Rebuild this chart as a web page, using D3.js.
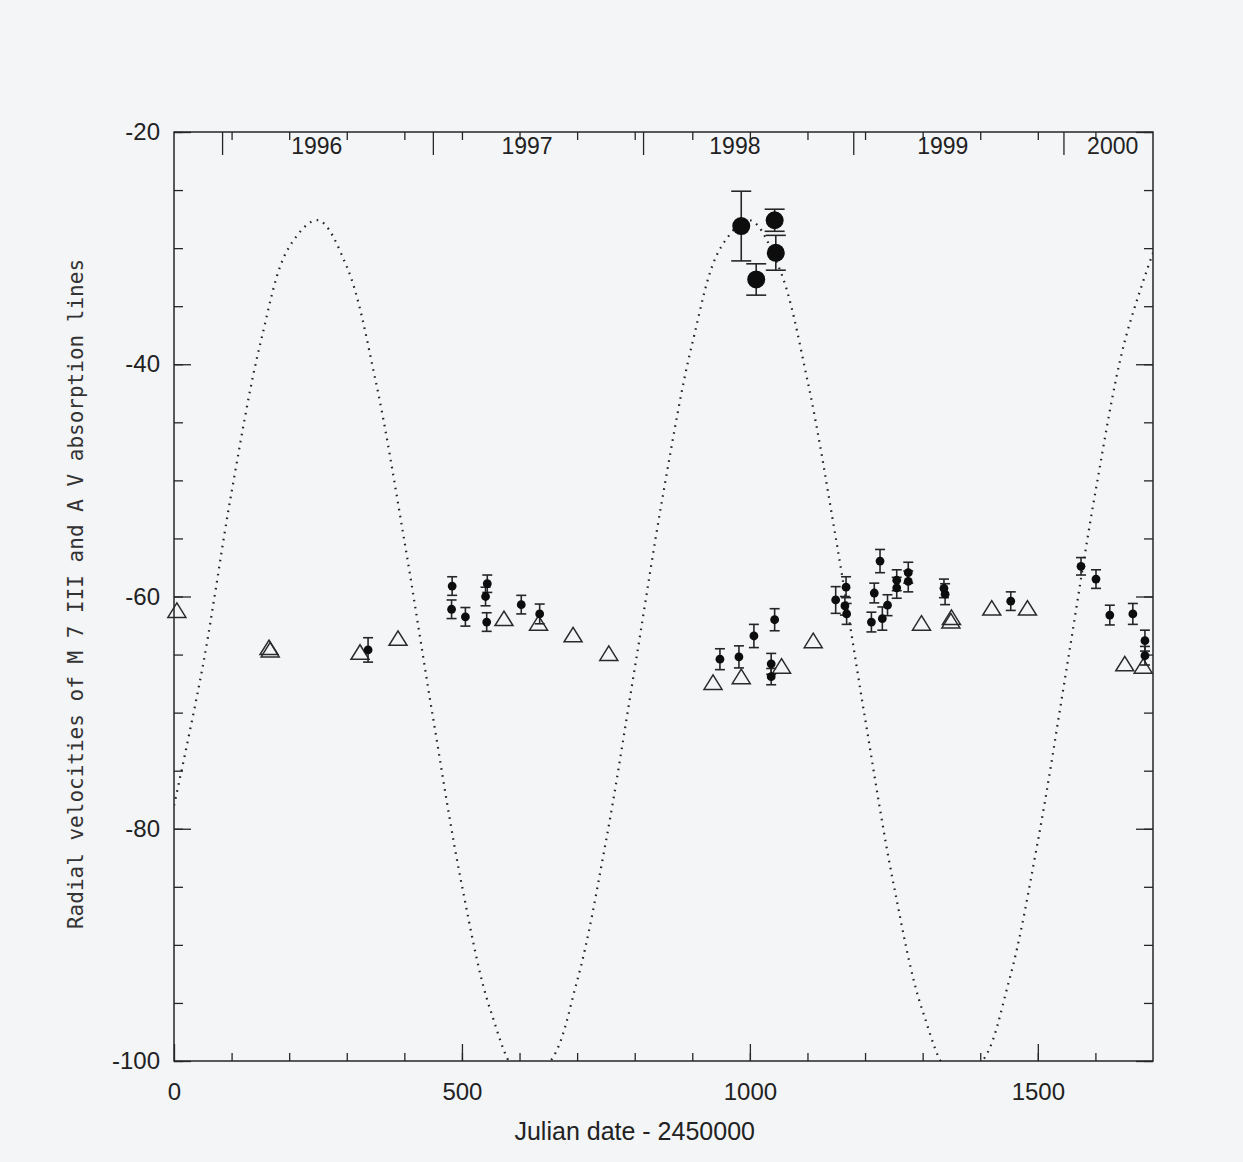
<!DOCTYPE html>
<html>
<head>
<meta charset="utf-8">
<script src="https://cdn.jsdelivr.net/npm/d3@7"></script>
<style>
  body { margin: 0; background: #f3f5f7; }
  svg { display: block; }
  .tick text { font-family: "Liberation Sans", Arial, sans-serif; fill: #222; }
</style>
</head>
<body>
<div id="chart"></div>
<script>
// velocities in km/s, dates as JD - 2450000

// A V absorption lines (open triangles)
const triangles = [
    [5, -61.2], [165, -64.4], [167, -64.6], [323, -64.8], [389, -63.6],
    [573, -61.9], [633, -62.3], [693, -63.3], [755, -64.9],
    [936, -67.4], [985, -66.9], [1055, -66.0], [1110, -63.8],
    [1298, -62.3], [1350, -61.8], [1349, -62.1], [1420, -61.0], [1482, -61.0],
    [1651, -65.8], [1683, -66.0]
];

// M 7 III lines (filled dots) : day, velocity, error
const mDots = [
    [337, -64.6, 1.05],
    [483, -59.1, 0.8], [482, -61.1, 0.8], [506, -61.75, 0.8],
    [544, -58.9, 0.75], [541, -60.0, 0.8], [543, -62.2, 0.8],
    [603, -60.7, 0.8], [635, -61.5, 0.85],
    [948, -65.4, 0.9], [981, -65.2, 0.95], [1007, -63.4, 1.0],
    [1043, -62.0, 0.95], [1037, -65.8, 0.9], [1037, -66.9, 0.7],
    [1149, -60.3, 1.15], [1167, -59.2, 0.9], [1165, -60.8, 0.8], [1168, -61.5, 0.9],
    [1226, -56.95, 1.0], [1216, -59.7, 0.85], [1211, -62.2, 0.85],
    [1230, -61.9, 1.0], [1239, -60.75, 0.9],
    [1255, -58.6, 0.9], [1255, -59.25, 0.9], [1275, -57.95, 0.9], [1275, -58.7, 0.9],
    [1337, -59.3, 0.8], [1339, -59.8, 0.9], [1453, -60.4, 0.8],
    [1575, -57.4, 0.75], [1601, -58.5, 0.8], [1625, -61.6, 0.85],
    [1665, -61.5, 0.9], [1686, -63.8, 0.9], [1686, -65.1, 0.8]
];

// the 1998 measurements (big dots)
const bigDots = [
    [985, -28.1, 3.0], [1011, -32.7, 1.35], [1043, -27.6, 0.95], [1045, -30.4, 1.5]
];

// dotted orbit curve, every 50 days
const orbitDays = d3.range(0, 1701, 50);
const orbitVel = [
    -78.0, -66.0, -51.0, -38.2, -29.9, -27.6, -31.6, -41.4, -55.2, -70.5,
    -84.9, -95.7, -101.1, -100.2, -93.1, -81.1, -66.2, -51.0, -38.2, -29.9,
    -27.6, -31.6, -41.4, -55.2, -70.5, -84.9, -95.7, -101.1, -100.2, -93.1,
    -81.1, -66.2, -51.0, -38.2, -30.4
];

const yearStarts = [83.5, 449.5, 814.5, 1179.5, 1544.5];
const yearNames = ["1996", "1997", "1998", "1999", "2000"];
const yearLabelDays = [248, 613, 974, 1335, 1630];

const xTicksMajor = [0, 500, 1000, 1500];
const yTicksMajor = [-20, -40, -60, -80, -100];

const W = 1243, H = 1162;
const margin = { top: 132, left: 174, right: 90, bottom: 101 };
const width = W - margin.left - margin.right;
const height = H - margin.top - margin.bottom;

const svg = d3.select("#chart").append("svg")
    .attr("width", W)
    .attr("height", H);

svg.append("rect")
    .attr("width", W).attr("height", H)
    .attr("fill", "#f3f5f7");

const g = svg.append("g").attr("transform", `translate(${margin.left},${margin.top})`);

const x = d3.scaleLinear().domain([0, 1700]).range([0, width]);
const y = d3.scaleLinear().domain([-100, -20]).range([height, 0]);

const ink = "#262626";

// clip for the curve
svg.append("defs").append("clipPath").attr("id", "plotclip")
    .append("rect").attr("width", width).attr("height", height);

// axes, ticks pointing inward
function styleAxis(sel) {
    sel.select(".domain").remove();
    sel.selectAll(".tick line").attr("stroke", ink).attr("stroke-width", 1.3);
}

g.append("g")
    .call(d3.axisLeft(y).tickValues(d3.range(-100, -19, 5)).tickSize(-9).tickFormat(""))
    .call(styleAxis);
g.append("g")
    .call(d3.axisLeft(y).tickValues(yTicksMajor).tickSize(-17).tickPadding(14).tickFormat(d => String(d)))
    .call(styleAxis)
    .selectAll("text").attr("font-size", 24);

g.append("g").attr("transform", `translate(${width},0)`)
    .call(d3.axisRight(y).tickValues(d3.range(-100, -19, 5)).tickSize(-9).tickFormat(""))
    .call(styleAxis);
g.append("g").attr("transform", `translate(${width},0)`)
    .call(d3.axisRight(y).tickValues(yTicksMajor).tickSize(-17).tickFormat(""))
    .call(styleAxis);

g.append("g").attr("transform", `translate(0,${height})`)
    .call(d3.axisBottom(x).tickValues(d3.range(100, 1700, 100)).tickSize(-8).tickFormat(""))
    .call(styleAxis);
g.append("g").attr("transform", `translate(0,${height})`)
    .call(d3.axisBottom(x).tickValues(xTicksMajor).tickSize(-17).tickPadding(22).tickFormat(d => String(d)))
    .call(styleAxis)
    .selectAll("text").attr("font-size", 24);

// top: every 100 days + year boundaries
g.append("g")
    .call(d3.axisTop(x).tickValues(d3.range(100, 1700, 100)).tickSize(-8).tickFormat(""))
    .call(styleAxis);
g.append("g")
    .call(d3.axisTop(x).tickValues(yearStarts).tickSize(-23).tickFormat(""))
    .call(styleAxis);

g.selectAll("text.year")
    .data(yearNames)
    .join("text")
    .attr("class", "year")
    .attr("x", (d, i) => x(yearLabelDays[i]))
    .attr("y", 22)
    .attr("text-anchor", "middle")
    .attr("font-family", "Liberation Sans, Arial, sans-serif")
    .attr("font-size", 23)
    .attr("fill", "#222")
    .text(d => d);

// frame
g.append("rect")
    .attr("width", width).attr("height", height)
    .attr("fill", "none")
    .attr("stroke", ink)
    .attr("stroke-width", 1.5);

// orbit curve
const line = d3.line()
    .x(d => x(d[0]))
    .y(d => y(d[1]))
    .curve(d3.curveCatmullRom);

g.append("path")
    .datum(orbitDays.map((d, i) => [d, orbitVel[i]]))
    .attr("clip-path", "url(#plotclip)")
    .attr("d", line)
    .attr("fill", "none")
    .attr("stroke", "#222")
    .attr("stroke-width", 2.2)
    .attr("stroke-dasharray", "1.6,5.5");

// triangles
g.selectAll("path.tri")
    .data(triangles)
    .join("path")
    .attr("class", "tri")
    .attr("transform", d => `translate(${x(d[0])},${y(d[1])})`)
    .attr("d", "M0,-7.5L9,7L-9,7Z")
    .attr("fill", "none")
    .attr("stroke", "#2a2a2a")
    .attr("stroke-width", 1.5);

// error bars + dots
function drawDots(data, r, cap, cls) {
    const grp = g.append("g").attr("class", cls);
    const bars = grp.selectAll("g")
        .data(data)
        .join("g")
        .attr("stroke", ink)
        .attr("stroke-width", 1.6);
    bars.append("line")
        .attr("x1", d => x(d[0])).attr("x2", d => x(d[0]))
        .attr("y1", d => y(d[1] - d[2])).attr("y2", d => y(d[1] + d[2]));
    bars.append("line")
        .attr("x1", d => x(d[0]) - cap).attr("x2", d => x(d[0]) + cap)
        .attr("y1", d => y(d[1] + d[2])).attr("y2", d => y(d[1] + d[2]));
    bars.append("line")
        .attr("x1", d => x(d[0]) - cap).attr("x2", d => x(d[0]) + cap)
        .attr("y1", d => y(d[1] - d[2])).attr("y2", d => y(d[1] - d[2]));
    grp.selectAll("circle")
        .data(data)
        .join("circle")
        .attr("cx", d => x(d[0]))
        .attr("cy", d => y(d[1]))
        .attr("r", r)
        .attr("fill", "#0d0d0d");
}

drawDots(mDots, 4.4, 5, "mdots");
drawDots(bigDots, 9, 10, "bigdots");

// axis titles
svg.append("text")
    .attr("x", margin.left + x(800))
    .attr("y", 1140)
    .attr("text-anchor", "middle")
    .attr("font-family", "Liberation Sans, Arial, sans-serif")
    .attr("font-size", 25)
    .attr("fill", "#222")
    .text("Julian date - 2450000");

svg.append("text")
    .attr("transform", "translate(83,594) rotate(-90)")
    .attr("text-anchor", "middle")
    .attr("font-family", "DejaVu Sans Mono, monospace")
    .attr("font-size", 21)
    .attr("fill", "#333")
    .text("Radial velocities of M 7 III and A V absorption lines");
</script>
</body>
</html>
